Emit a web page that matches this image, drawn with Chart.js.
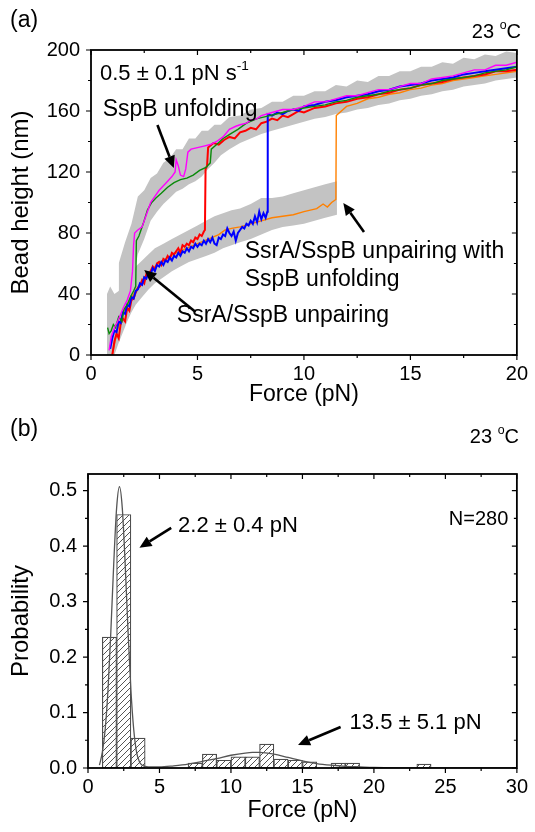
<!DOCTYPE html>
<html>
<head>
<meta charset="utf-8">
<script src="https://cdn.jsdelivr.net/npm/chart.js@4.4.1/dist/chart.umd.min.js"></script>
<style>
  html, body { margin: 0; padding: 0; background: #fff; }
  canvas { display: block; }
</style>
</head>
<body>
<canvas id="traceChart" width="535" height="410"></canvas>
<canvas id="histChart" width="535" height="422"></canvas>
<script>
// ---- (a) bead height vs force traces, [force pN, height nm] ----
const forceTicks = [0, 5, 10, 15, 20];
const heightTicks = [0, 40, 80, 120, 160, 200];

const magentaTrace = [[0.85,3],[0.95,12],[1.1,18],[1.25,22],[1.4,27],[1.55,32],[1.7,36],[1.85,42],[1.95,55],[2.0,72],[2.05,80],[2.2,82],[2.4,84],[2.6,92],[2.8,100],[3.0,104],[3.2,108],[3.4,111],[3.6,114],[3.8,117],[3.95,120],[4.0,128],[4.1,124],[4.2,118],[4.35,117],[4.45,122],[4.55,133],[4.7,135],[5.0,136],[5.3,137],[5.6,138],[5.9,140],[6.2,143],[6.5,148],[6.8,150],[7.0,151],[7.3,152],[7.5,154],[7.8,155],[8.0,157],[8.5,159],[9,161],[9.5,161],[10,163],[10.5,166],[11,166],[11.5,168],[12,170],[12.5,170],[13,172],[13.5,174],[14,174],[14.5,176],[15,178],[15.5,178],[16,181],[16.5,182],[17,183],[17.5,185],[18,187],[18.5,187],[19,190],[19.5,190],[20,192]];

const greenTrace = [[0.78,18],[0.85,14],[0.95,16],[1.05,20],[1.15,18],[1.3,25],[1.45,22],[1.55,30],[1.7,33],[1.85,38],[2.0,42],[2.1,45],[2.13,75],[2.25,78],[2.45,86],[2.65,95],[2.85,100],[3.05,103],[3.3,106],[3.6,110],[3.9,113],[4.2,115],[4.5,116],[4.8,118],[5.1,121],[5.4,123],[5.6,126],[5.65,135],[5.9,138],[6.2,142],[6.55,145],[6.9,148],[7.3,152],[7.8,155],[8.4,157],[9,159],[9.5,161],[10,162],[10.5,163],[11,164],[11.5,166],[12,167],[12.5,169],[13,170],[13.5,171],[14,173],[14.5,174],[15,175],[15.5,177],[16,178],[16.5,180],[17,181],[17.5,182],[18,183],[18.5,185],[19,186],[19.5,187],[20,189]];

const redTrace = [[1.0,0],[1.1,9],[1.2,14],[1.3,11],[1.4,21],[1.5,24],[1.6,22],[1.7,31],[1.8,29],[1.9,36],[2.0,37],[2.1,41],[2.2,44],[2.3,45],[2.4,49],[2.5,47],[2.6,53],[2.7,52],[2.8,55],[2.9,58],[3.0,56],[3.1,60],[3.2,61],[3.3,59],[3.4,63],[3.5,62],[3.6,65],[3.7,63],[3.8,67],[3.9,66],[4.0,68],[4.1,70],[4.2,67],[4.3,72],[4.4,71],[4.5,73],[4.6,72],[4.7,75],[4.8,74],[4.9,77],[5.0,76],[5.1,79],[5.2,78],[5.3,81],[5.35,82],[5.38,122],[5.45,124],[5.5,136],[5.75,139],[6.0,138],[6.25,141],[6.5,143],[6.75,142],[7.0,146],[7.25,147],[7.5,149],[7.75,148],[8.0,152],[8.25,153],[8.5,155],[8.75,154],[9.0,157],[9.25,156],[9.5,158],[9.75,160],[10.0,159],[10.5,162],[11,163],[11.5,165],[12,166],[12.5,168],[13,169],[13.5,171],[14,172],[14.5,174],[15,175],[15.5,177],[16,178],[16.5,179],[17,181],[17.5,182],[18,183],[18.5,184],[19,186],[19.5,186],[20,187]];

const blueTrace = [[0.9,4],[1.0,11],[1.1,16],[1.2,15],[1.3,22],[1.4,21],[1.5,28],[1.6,27],[1.7,33],[1.8,32],[1.9,38],[2.0,37],[2.1,42],[2.2,43],[2.3,47],[2.4,46],[2.5,51],[2.6,50],[2.7,54],[2.8,53],[2.9,57],[3.0,55],[3.1,59],[3.2,58],[3.3,61],[3.4,59],[3.5,62],[3.6,61],[3.7,64],[3.8,62],[3.9,65],[4.0,64],[4.1,67],[4.2,65],[4.3,68],[4.4,67],[4.5,70],[4.6,68],[4.7,71],[4.8,70],[4.9,73],[5.0,71],[5.1,73],[5.2,72],[5.3,75],[5.4,73],[5.5,76],[5.6,74],[5.7,77],[5.8,73],[5.9,72],[6.0,77],[6.1,76],[6.2,79],[6.3,78],[6.4,83],[6.5,80],[6.6,78],[6.7,81],[6.8,75],[6.9,80],[7.0,82],[7.1,84],[7.2,83],[7.3,86],[7.4,85],[7.5,88],[7.6,86],[7.7,91],[7.8,87],[7.9,94],[8.0,89],[8.1,93],[8.2,90],[8.28,94],[8.3,158],[8.5,157],[8.75,159],[9,158],[9.25,160],[9.5,161],[9.75,160],[10,163],[10.5,164],[11,166],[11.5,167],[12,169],[12.5,170],[13,171],[13.5,173],[14,174],[14.5,176],[15,177],[15.5,178],[16,180],[16.5,181],[17,182],[17.5,184],[18,185],[18.5,186],[19,187],[19.5,188],[20,189]];

const orangeTrace = [[1.0,0],[1.2,14],[1.5,28],[2,40],[2.5,51],[3,58],[3.5,63],[4,67],[4.5,70],[5,73],[5.5,76],[6,79],[6.3,82],[6.6,83],[7,84],[7.5,86],[8,88],[8.5,90],[9,91],[9.5,92],[10,94],[10.3,95],[10.6,96],[10.9,99],[11.1,97],[11.3,100],[11.5,102],[11.52,157],[11.6,158],[12,163],[12.5,165],[13,168],[13.5,169],[14,171],[14.5,172],[15,174],[15.5,175],[16,177],[16.5,178],[17,180],[17.5,181],[18,182],[18.5,183],[19,184],[19.5,185],[20,186]];

// raw (grey) data envelopes: force, upper, lower
const grayUpF = [1.3,1.6,1.9,2.2,2.5,2.8,3.1,3.4,3.7,4.0,4.3,4.6,4.9,5.2,5.5,5.8,6.1,6.5,7,7.5,8,8.5,9,9.5,10,10.5,11,11.5,12,12.5,13,13.5,14,14.5,15,15.5,16,16.5,17,17.5,18,18.5,19,19.5,20];
const grayUpHi = [60,74,86,104,108,116,119,126,129,135,135,142,142,147,147,151,151,156,157,161,162,166,166,170,170,173,173,177,176,180,179,183,183,186,186,189,189,192,191,195,194,197,196,199,198];
const grayUpLo = [30,35,45,66,76,88,94,99,103,107,109,112,114,117,122,126,131,135,139,142,145,147,149,151,153,155,156,158,159,161,162,164,165,167,168,170,171,173,174,176,177,178,180,181,182];
const grayLowF = [0.75,0.9,1.1,1.3,1.5,1.7,1.9,2.1,2.4,2.7,3.0,3.4,3.8,4.2,4.6,5.0,5.4,5.8,6.2,6.6,7.0,7.5,8.0,8.5,9.0,9.5,10.0,10.5,11.0,11.55];
const grayLowHi = [40,45,40,42,47,50,55,58,62,66,70,73,76,79,82,85,88,91,93,95,96,99,103,103,104,106,108,110,112,114];
const grayLowLo = [0,0,0,8,15,22,28,33,38,43,47,51,55,58,61,63,65,67,70,72,74,76,79,82,84,85,86,88,90,92];

// ---- (b) rupture force histogram ----
const histForceTicks = [0, 5, 10, 15, 20, 25, 30];
const probTicks = [0, 0.1, 0.2, 0.3, 0.4, 0.5];
const binStart = [1, 2, 3, 7, 8, 9, 10, 11, 12, 13, 14, 15, 17, 18, 23];
const binProb = [0.236, 0.457, 0.054, 0.009, 0.025, 0.014, 0.020, 0.020, 0.043, 0.016, 0.014, 0.011, 0.009, 0.009, 0.007];
const fitF = [0.8,1.0,1.2,1.4,1.6,1.8,2.0,2.2,2.4,2.6,2.8,3.0,3.2,3.4,3.6,3.8,4.0,4.5,5,6,7,8,9,10,11,11.5,12,13,14,15,16,17,18,19,20,22,25,30];
const fitP = [0.005,0.028,0.069,0.141,0.247,0.368,0.468,0.507,0.468,0.368,0.247,0.141,0.069,0.028,0.011,0.005,0.003,0.002,0.002,0.004,0.007,0.012,0.017,0.023,0.027,0.028,0.028,0.025,0.019,0.013,0.008,0.005,0.003,0.002,0.001,0.0003,0,0];

const FONT = "'Liberation Sans', Arial, Helvetica, sans-serif";
Chart.defaults.font.family = FONT;
Chart.defaults.color = '#000';

function pts(xs, ys) {
    return xs.map((v, i) => ({ x: v, y: ys[i] }));
}

function trace(pairs, color, width, order) {
    return {
        data: pairs.map(p => ({ x: p[0], y: p[1] })),
        borderColor: color,
        borderWidth: width,
        pointRadius: 0,
        tension: 0,
        fill: false,
        order: order
    };
}

// text with optional superscript parts: [[text, isSup], ...]
function richText(ctx, parts, x, y, size, align) {
    const widths = parts.map(p => {
        ctx.font = (p[1] ? size * 0.62 : size) + 'px ' + FONT;
        return ctx.measureText(p[0]).width;
    });
    const total = widths.reduce((a, b) => a + b, 0);
    let cx = align === 'right' ? x - total : x;
    ctx.textAlign = 'left';
    ctx.textBaseline = 'middle';
    parts.forEach((p, i) => {
        ctx.font = (p[1] ? size * 0.62 : size) + 'px ' + FONT;
        ctx.fillText(p[0], cx, p[1] ? y - size * 0.33 : y);
        cx += widths[i];
    });
}

function arrow(ctx, x1, y1, x2, y2) {
    const ang = Math.atan2(y2 - y1, x2 - x1);
    const head = 12, half = 5.5;
    const bx = x2 - head * Math.cos(ang), by = y2 - head * Math.sin(ang);
    ctx.lineWidth = 2.6;
    ctx.beginPath();
    ctx.moveTo(x1, y1);
    ctx.lineTo(bx, by);
    ctx.stroke();
    ctx.beginPath();
    ctx.moveTo(x2, y2);
    ctx.lineTo(bx + half * Math.sin(ang), by - half * Math.cos(ang));
    ctx.lineTo(bx - half * Math.sin(ang), by + half * Math.cos(ang));
    ctx.closePath();
    ctx.fill();
}

// box frame with outward ticks (bottom/left) and inward ticks (top/right)
function drawFrame(chart, xt, yt) {
    const { ctx, chartArea: a } = chart;
    const xs = chart.scales.x, ys = chart.scales.y;
    ctx.save();
    ctx.strokeStyle = '#000';
    ctx.lineWidth = 1.2;
    ctx.beginPath();
    const xAll = [], yAll = [];
    xt.forEach((v, i) => {
        xAll.push([v, 5]);
        if (i < xt.length - 1) xAll.push([(v + xt[i + 1]) / 2, 3]);
    });
    yt.forEach((v, i) => {
        yAll.push([v, 5]);
        if (i < yt.length - 1) yAll.push([(v + yt[i + 1]) / 2, 3]);
    });
    xAll.forEach(([v, len]) => {
        const px = xs.getPixelForValue(v);
        ctx.moveTo(px, a.bottom); ctx.lineTo(px, a.bottom + len);
        ctx.moveTo(px, a.top); ctx.lineTo(px, a.top + len);
    });
    yAll.forEach(([v, len]) => {
        const py = ys.getPixelForValue(v);
        ctx.moveTo(a.left, py); ctx.lineTo(a.left - len, py);
        ctx.moveTo(a.right, py); ctx.lineTo(a.right - len, py);
    });
    ctx.stroke();
    ctx.lineWidth = 1.8;
    ctx.strokeRect(a.left, a.top, a.right - a.left, a.bottom - a.top);
    ctx.restore();
}

function axisOpts(min, max, tickVals, fmt, pad) {
    return {
        type: 'linear',
        min: min,
        max: max,
        afterBuildTicks: s => { s.ticks = tickVals.map(v => ({ value: v })); },
        grid: { display: false, drawTicks: false },
        border: { display: false },
        ticks: { padding: pad, font: { size: 20 }, color: '#000', maxRotation: 0, callback: fmt }
    };
}

// ---- chart (a) ----
const xA = axisOpts(0, 20, forceTicks, v => String(v), 7);
xA.afterFit = s => { s.height = 55; };
xA.title = { display: true, text: 'Force (pN)', font: { size: 23 }, color: '#000', padding: { top: 0, bottom: 2 } };
const yA = axisOpts(0, 200, heightTicks, v => String(v), 11);
yA.afterFit = s => { s.width = 91; };
yA.title = { display: true, text: 'Bead height (nm)', font: { size: 24 }, color: '#000', padding: { top: 7, bottom: 0 } };

new Chart(document.getElementById('traceChart'), {
    type: 'line',
    data: {
        datasets: [
            { data: pts(grayUpF, grayUpHi), borderWidth: 0, pointRadius: 0, backgroundColor: '#c3c3c3', fill: '+1', order: 10 },
            { data: pts(grayUpF, grayUpLo), borderWidth: 0, pointRadius: 0, fill: false, order: 10 },
            { data: pts(grayLowF, grayLowHi), borderWidth: 0, pointRadius: 0, backgroundColor: '#c3c3c3', fill: '+1', order: 10 },
            { data: pts(grayLowF, grayLowLo), borderWidth: 0, pointRadius: 0, fill: false, order: 10 },
            trace(orangeTrace, '#ff8000', 1.4, 6),
            trace(redTrace, '#ff0000', 2.0, 5),
            trace(blueTrace, '#0000ff', 2.0, 4),
            trace(greenTrace, '#0a8a0a', 1.4, 3),
            trace(magentaTrace, '#ff00ff', 1.4, 2)
        ]
    },
    options: {
        responsive: false,
        animation: false,
        layout: { padding: { top: 50, right: 12, left: 0, bottom: 0 } },
        plugins: { legend: { display: false }, tooltip: { enabled: false } },
        scales: { x: xA, y: yA }
    },
    plugins: [{
        id: 'annotA',
        afterDraw(chart) {
            drawFrame(chart, forceTicks, heightTicks);
            const ctx = chart.ctx;
            const X = v => chart.scales.x.getPixelForValue(v);
            const Y = v => chart.scales.y.getPixelForValue(v);
            ctx.save();
            ctx.fillStyle = '#000';
            ctx.strokeStyle = '#000';
            richText(ctx, [['(a)', false]], 10, 21, 23, 'left');
            richText(ctx, [['23 ', false], ['o', true], ['C', false]], 521, 32, 20, 'right');
            richText(ctx, [['0.5 \u00b1 0.1 pN s', false], ['-1', true]], X(0.42), Y(184.6), 22, 'left');
            richText(ctx, [['SspB unfolding', false]], X(0.55), Y(160.7), 23, 'left');
            richText(ctx, [['SsrA/SspB unpairing with', false]], X(7.22), Y(67.5), 23, 'left');
            richText(ctx, [['SspB unfolding', false]], X(7.22), Y(49.2), 23, 'left');
            richText(ctx, [['SsrA/SspB unpairing', false]], X(4.03), Y(25.6), 23, 'left');
            arrow(ctx, X(3.12), Y(150.8), X(3.89), Y(122.6));
            arrow(ctx, X(12.82), Y(80.7), X(11.85), Y(99.7));
            arrow(ctx, X(4.91), Y(28.2), X(2.5), Y(55.7));
            ctx.restore();
        }
    }]
});

// ---- chart (b) ----
function hatchPattern() {
    const c = document.createElement('canvas');
    c.width = 6; c.height = 6;
    const g = c.getContext('2d');
    g.fillStyle = '#fff';
    g.fillRect(0, 0, 6, 6);
    g.strokeStyle = '#555';
    g.lineWidth = 1;
    g.beginPath();
    g.moveTo(0, 6); g.lineTo(6, 0);
    g.moveTo(-1, 1); g.lineTo(1, -1);
    g.moveTo(5, 7); g.lineTo(7, 5);
    g.stroke();
    return g.createPattern(c, 'repeat');
}

const xB = axisOpts(0, 30, histForceTicks, v => String(v), 7);
xB.offset = false;
xB.afterFit = s => { s.height = 64; };
xB.title = { display: true, text: 'Force (pN)', font: { size: 23 }, color: '#000', padding: { top: 0, bottom: 8 } };
const yB = axisOpts(0, 0.53, probTicks, v => v.toFixed(1), 11);
yB.afterFit = s => { s.width = 88; };
yB.title = { display: true, text: 'Probability', font: { size: 24 }, color: '#000', padding: { top: 7, bottom: 0 } };

new Chart(document.getElementById('histChart'), {
    type: 'bar',
    data: {
        datasets: [
            {
                type: 'bar',
                data: binStart.map((s, i) => ({ x: s + 0.5, y: binProb[i] })),
                backgroundColor: hatchPattern(),
                borderColor: '#4d4d4d',
                borderWidth: 1.2,
                borderSkipped: false,
                barPercentage: 1,
                categoryPercentage: 1,
                order: 2
            },
            {
                type: 'line',
                data: pts(fitF, fitP),
                borderColor: '#555',
                borderWidth: 1.3,
                pointRadius: 0,
                cubicInterpolationMode: 'monotone',
                fill: false,
                order: 1
            }
        ]
    },
    options: {
        responsive: false,
        animation: false,
        layout: { padding: { top: 64, right: 14, left: 0, bottom: 0 } },
        plugins: { legend: { display: false }, tooltip: { enabled: false } },
        scales: { x: xB, y: yB }
    },
    plugins: [{
        id: 'annotB',
        afterDraw(chart) {
            drawFrame(chart, histForceTicks, probTicks);
            const ctx = chart.ctx;
            const X = v => chart.scales.x.getPixelForValue(v);
            const Y = v => chart.scales.y.getPixelForValue(v);
            ctx.save();
            ctx.fillStyle = '#000';
            ctx.strokeStyle = '#000';
            richText(ctx, [['(b)', false]], 10, 20, 23, 'left');
            richText(ctx, [['23 ', false], ['o', true], ['C', false]], 519, 27, 20, 'right');
            richText(ctx, [['N=280', false]], X(29.4), Y(0.448), 20, 'right');
            richText(ctx, [['2.2 \u00b1 0.4 pN', false]], X(6.3), Y(0.437), 22, 'left');
            richText(ctx, [['13.5 \u00b1 5.1 pN', false]], X(18.3), Y(0.081), 22, 'left');
            arrow(ctx, X(5.82), Y(0.433), X(3.6), Y(0.397));
            arrow(ctx, X(17.67), Y(0.074), X(14.69), Y(0.0415));
            ctx.restore();
        }
    }]
});
</script>
</body>
</html>
